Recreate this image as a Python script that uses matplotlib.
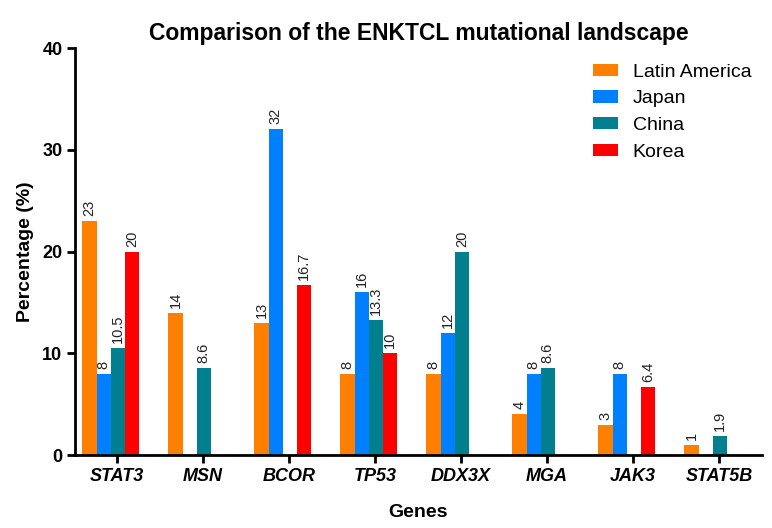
import matplotlib
matplotlib.use("Agg")
import matplotlib.pyplot as plt
import numpy as np

plt.rcParams['font.family'] = ['Liberation Sans', 'DejaVu Sans']

genes = ['STAT3', 'MSN', 'BCOR', 'TP53', 'DDX3X', 'MGA', 'JAK3', 'STAT5B']
series = ['Latin America', 'Japan', 'China', 'Korea']
colors = ['#FF8000', '#0080FF', '#00808F', '#FF0000']

# None = no bar for that gene
latin_america = [23, 14, 13, 8, 8, 4, 3, 1]
japan = [8, None, 32, 16, 12, 8, 8, None]
china = [10.5, 8.6, None, 13.3, 20, 8.6, None, 1.9]
korea = [20, None, 16.7, 10, None, None, 6.7, None]

# printed labels (JAK3 Korea bar is drawn a bit taller than its label)
latin_america_lbl = ['23', '14', '13', '8', '8', '4', '3', '1']
japan_lbl = ['8', '', '32', '16', '12', '8', '8', '']
china_lbl = ['10.5', '8.6', '', '13.3', '20', '8.6', '', '1.9']
korea_lbl = ['20', '', '16.7', '10', '', '', '6.4', '']

values = [latin_america, japan, china, korea]
labels = [latin_america_lbl, japan_lbl, china_lbl, korea_lbl]

fig = plt.figure(figsize=(7.72, 5.28), dpi=100)
ax = fig.add_axes([0.097, 0.138, 0.89, 0.771])

x = np.arange(len(genes))
width = 0.165
offsets = [-0.32, -0.155, 0.01, 0.175]

for vals, lbls, name, col, off in zip(values, labels, series, colors, offsets):
    xs = [xi + off for xi, v in zip(x, vals) if v is not None]
    hs = [v for v in vals if v is not None]
    ts = [t for t, v in zip(lbls, vals) if v is not None]
    ax.bar(xs, hs, width=width, color=col, label=name)
    for xi, h, t in zip(xs, hs, ts):
        ax.text(xi, h + 0.5, t, rotation=90, ha='center', va='bottom',
                fontsize=10.5, color='#222222')

ax.set_xlim(-0.49, 7.5)
ax.set_ylim(0, 40)
ax.set_yticks([0, 10, 20, 30, 40])
ax.set_xticks(x)
ax.set_xticklabels(genes, fontstyle='italic', fontweight='bold', fontsize=13)
for t in ax.get_yticklabels():
    t.set_fontweight('bold')
    t.set_fontsize(13)

for s in ['top', 'right']:
    ax.spines[s].set_visible(False)
for s in ['left', 'bottom']:
    ax.spines[s].set_linewidth(2)
ax.tick_params(width=2, length=6, pad=3)

ax.set_ylabel('Percentage (%)', fontsize=14, fontweight='bold', labelpad=6)
ax.set_xlabel('Genes', fontsize=14, fontweight='bold', labelpad=14)
ax.set_title('Comparison of the ENKTCL mutational landscape', fontsize=16.5,
             fontweight='bold', pad=6)

ax.legend(loc='upper right', bbox_to_anchor=(1.01, 1.005), frameon=False,
          fontsize=14, handlelength=1.3, handleheight=0.62,
          handletextpad=0.75, labelspacing=0.49)

plt.savefig('out.png', dpi=100)
